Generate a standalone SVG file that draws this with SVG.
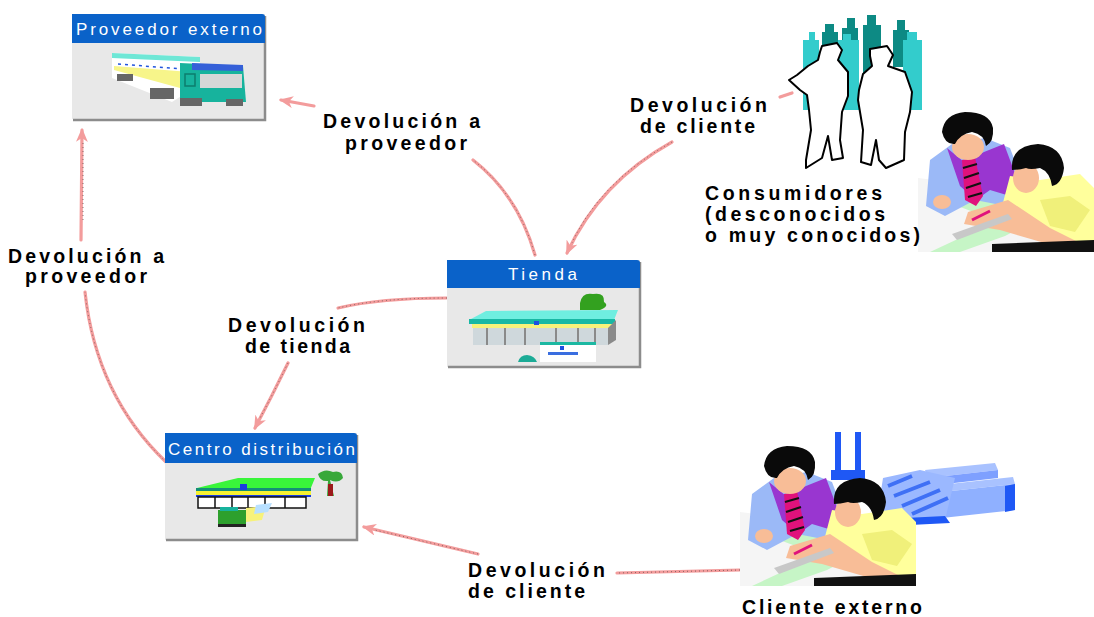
<svg xmlns="http://www.w3.org/2000/svg" xmlns:xlink="http://www.w3.org/1999/xlink" width="1094" height="617" viewBox="0 0 1094 617">
  <style>
    .lbl { font-family: "Liberation Sans", Arial, sans-serif; font-weight: bold; font-size: 19.5px; fill: #000; }
    .hdr { font-family: "Liberation Sans", Arial, sans-serif; font-size: 17px; fill: #fff; }
    .box { fill: #e8e8e8; }
    .shadow { fill: none; stroke: #8c8c8c; stroke-width: 2.5; }
    .bar { fill: #0a62c9; }
    .conn-base { fill: none; stroke: #f39c9c; stroke-width: 3.2; stroke-linecap: round; }
    .conn-dots { fill: none; stroke: #5a4444; stroke-width: 1; stroke-dasharray: 1 3; opacity: 0.7; }
    .ink { fill: #fff; stroke: #000; stroke-width: 2; stroke-linejoin: round; }
    .skin { fill: #f8bd97; }
    .hair { fill: #0a0a0a; }
  </style>
  <defs>
    <marker id="head" viewBox="0 0 14 12" refX="12" refY="6" markerWidth="14" markerHeight="12" markerUnits="userSpaceOnUse" orient="auto">
      <path d="M0,0 L14,6 L0,12 L4,6 Z" fill="#f39c9c"/>
    </marker>
    <!-- two men at a desk, reused for both client pictures -->
    <g id="pair">
      <polygon points="918,178 1000,188 1094,222 1094,252 918,252" fill="#f5f5f5"/>
      <polygon points="928,182 985,196 1040,218 1005,236 960,252 930,252 960,238 1000,222 955,205" fill="#c6f5c6"/>
      <polygon points="930,160 952,144 985,138 1010,148 1022,180 1006,206 975,200 945,216 926,206" fill="#9bb9f7"/>
      <polygon points="947,148 964,162 984,152 1004,144 1016,176 1010,196 990,190 976,200 960,186" fill="#9936d0"/>
      <polygon points="962,160 975,157 983,196 976,206 965,200" fill="#e0127c"/>
      <path d="M963,168 L977,164 M964,178 L979,173 M966,188 L981,183 M968,197 L982,193" stroke="#111" stroke-width="2.2"/>
      <ellipse class="skin" cx="968" cy="147" rx="16" ry="13"/>
      <path class="hair" d="M942,132 Q944,114 965,112 Q990,112 993,128 Q994,142 986,146 Q984,134 972,132 Q960,134 955,144 Q945,145 942,132 Z"/>
      <ellipse class="skin" cx="942" cy="202" rx="9" ry="7"/>
      <polygon points="1010,176 1040,180 1080,174 1094,188 1094,245 1060,238 1020,226 1000,214" fill="#ffff9c"/>
      <polygon points="1040,200 1070,196 1090,210 1075,232 1050,226" fill="#f0f07a"/>
      <ellipse class="skin" cx="1026" cy="178" rx="13" ry="15"/>
      <path class="hair" d="M1012,170 Q1010,146 1038,144 Q1062,146 1064,168 Q1062,184 1052,186 Q1050,172 1040,168 Q1030,170 1026,168 Q1018,170 1012,170 Z"/>
      <polygon points="968,212 1008,200 1050,228 1082,244 1062,248 1000,230 964,224" fill="#f8bd97"/>
      <polygon points="952,234 1008,214 1012,219 957,240" fill="#c8c8c8"/>
      <line x1="972" y1="220" x2="990" y2="211" stroke="#e0127c" stroke-width="3"/>
      <polygon points="992,244 1094,240 1094,252 992,252" fill="#111"/>
    </g>
  </defs>

  <rect width="1094" height="617" fill="#fff"/>

  <!-- connectors -->
  <g id="connectors">
    <path class="conn-base" d="M535,255 Q518,195 473,160"/>
    <path class="conn-dots" d="M535,255 Q518,195 473,160"/>
    <path class="conn-base" d="M314,106 L281,100" marker-end="url(#head)"/>

    <path class="conn-base" d="M780,97 L792,93"/>
    <path class="conn-base" d="M672,142 Q600,182 567,253" marker-end="url(#head)"/>
    <path class="conn-dots" d="M672,142 Q600,182 572,243"/>

    <path class="conn-base" d="M447,298 Q380,298 338,308"/>
    <path class="conn-dots" d="M447,298 Q380,298 338,308"/>
    <path class="conn-base" d="M288,363 Q272,396 255,428" marker-end="url(#head)"/>
    <path class="conn-dots" d="M288,363 Q274,392 260,418"/>

    <path class="conn-base" d="M166,462 Q96,395 85,292"/>
    <path class="conn-dots" d="M166,462 Q96,395 85,292"/>
    <path class="conn-base" d="M81,240 L82,130" marker-end="url(#head)"/>
    <path class="conn-dots" d="M83,220 L83,140"/>

    <path class="conn-base" d="M740,570 L617,573"/>
    <path class="conn-dots" d="M740,570 L617,573"/>
    <path class="conn-base" d="M478,554 L364,527" marker-end="url(#head)"/>
    <path class="conn-dots" d="M478,554 L375,530"/>
  </g>

  <!-- Proveedor externo -->
  <g id="proveedor">
    <rect class="box" x="72" y="14" width="193" height="105"/>
    <path class="shadow" d="M265,16 V120 H73"/>
    <path class="bar" d="M72,14 H262 Q265,14 265,17 V43 H72 Z"/>
    <text class="hdr" x="76" y="35" textLength="186" lengthAdjust="spacing">Proveedor externo</text>
    <polygon points="112,53 200,57 200,84 172,102 112,78" fill="#fff"/>
    <polygon points="112,53 200,57 200,62 112,58" fill="#6ee7d6"/>
    <polygon points="114,66 190,72 180,88 114,70" fill="#f7f58a"/>
    <line x1="118" y1="64" x2="196" y2="70" stroke="#2255dd" stroke-width="1.5" stroke-dasharray="3 4"/>
    <polygon points="180,63 243,66 246,102 180,102" fill="#17b39d"/>
    <polygon points="192,63 243,65 243,71 192,70" fill="#3560d8"/>
    <rect x="200" y="74" width="42" height="14" fill="#d7d7d7"/>
    <rect x="185" y="74" width="10" height="12" fill="none" stroke="#0d7d6d" stroke-width="1.5"/>
    <rect x="117" y="74" width="16" height="7" fill="#666"/>
    <rect x="150" y="88" width="24" height="11" fill="#666"/>
    <rect x="180" y="98" width="22" height="8" fill="#666"/>
    <rect x="226" y="99" width="17" height="7" fill="#666"/>
  </g>

  <!-- Tienda -->
  <g id="tienda">
    <rect class="box" x="447" y="260" width="193" height="107"/>
    <path class="shadow" d="M640,262 V367 H448"/>
    <path class="bar" d="M447,260 H637 Q640,260 640,263 V288 H447 Z"/>
    <text class="hdr" x="508" y="280" textLength="69" lengthAdjust="spacing">Tienda</text>
    <path d="M580,303 Q582,292 593,294 Q605,292 604,302 Q610,306 600,310 L580,310 Z" fill="#33a11f"/>
    <polygon points="471,319 486,311 618,310 614,320" fill="#6feee0"/>
    <rect x="469" y="319" width="146" height="5" fill="#18b8a4"/>
    <rect x="472" y="324" width="140" height="4" fill="#f7f27a"/>
    <rect x="473" y="328" width="135" height="17" fill="#cfd8dc"/>
    <path d="M487,328 V345 M505,328 V345 M525,328 V345 M556,328 V345 M578,328 V345 M595,328 V345" stroke="#8a8a8a" stroke-width="2"/>
    <polygon points="608,328 616,320 616,340 608,345" fill="#8a8a8a"/>
    <rect x="534" y="321" width="5" height="4" fill="#1e50e0"/>
    <rect x="540" y="342" width="56" height="20" fill="#fff"/>
    <rect x="540" y="342" width="56" height="3" fill="#1cb8a2"/>
    <rect x="548" y="352" width="30" height="3" fill="#3a6ee0"/>
    <rect x="560" y="346" width="4" height="4" fill="#1e50e0"/>
    <path d="M518,362 Q520,355 527,355 Q535,356 537,362 Z" fill="#1cab96"/>
  </g>

  <!-- Centro distribución -->
  <g id="centro">
    <rect class="box" x="165" y="433" width="192" height="107"/>
    <path class="shadow" d="M357,435 V540 H166"/>
    <path class="bar" d="M165,433 H354 Q357,433 357,436 V463 H165 Z"/>
    <text class="hdr" x="168" y="455" textLength="187" lengthAdjust="spacing">Centro distribución</text>
    <polygon points="197,488 238,478 315,478 310,490" fill="#39f53a"/>
    <rect x="196" y="488" width="115" height="3" fill="#138f77"/>
    <rect x="196" y="491" width="115" height="4" fill="#f7f230"/>
    <rect x="196" y="495" width="115" height="2" fill="#1a3de0"/>
    <rect x="198" y="497" width="108" height="11" fill="#fff" stroke="#111" stroke-width="1.5"/>
    <path d="M215,497 V508 M232,497 V508 M248,497 V508 M265,497 V508 M285,497 V508" stroke="#111" stroke-width="1.5"/>
    <rect x="240" y="484" width="7" height="6" fill="#1a3de0"/>
    <path d="M318,474 Q325,468 333,472 Q342,470 343,478 Q338,484 330,480 L334,496 L327,496 L328,481 Q320,482 318,474 Z" fill="#38a83a"/>
    <rect x="328" y="484" width="5" height="12" fill="#9b1a1a"/>
    <rect x="218" y="510" width="28" height="16" fill="#2da02d"/>
    <rect x="220" y="507" width="18" height="4" fill="#17b39d"/>
    <rect x="218" y="524" width="28" height="3" fill="#222"/>
    <polygon points="246,508 266,506 262,520 246,522" fill="#f7f27a"/>
    <polygon points="256,505 272,503 268,512 254,514" fill="#b8e0ff"/>
  </g>

  <!-- Consumidores -->
  <g id="consumidores">
    <path d="M803,40 h6 v-8 h6 v8 h4 v70 h-16 Z" fill="#33cccc"/>
    <path d="M842,28 h5 v-10 h8 v10 h3 v55 h-16 Z" fill="#0d8a84"/>
    <path d="M837,40 h6 v-6 h8 v6 h8 v70 h-22 Z" fill="#33cccc"/>
    <path d="M863,25 h4 v-10 h9 v10 h5 v52 h-18 Z" fill="#0d8a84"/>
    <path d="M893,30 h4 v-10 h8 v10 h4 v37 h-16 Z" fill="#0d8a84"/>
    <path d="M903,40 h4 v-8 h10 v8 h5 v70 h-19 Z" fill="#33cccc"/>
    <path d="M822,32 h3 v-8 h9 v8 h4 v14 h-16 Z" fill="#0d8a84"/>
    <path class="ink" d="M822,46 L837,43 L842,50 L838,60 L848,72 L848,96 L842,112 L840,140 L843,158 L832,160 L828,136 L822,158 L806,168 L806,160 L811,130 L809,110 L807,95 L800,90 L789,80 L797,75 L808,66 L818,60 L820,52 Z"/>
    <path class="ink" d="M870,49 L887,46 L893,55 L888,66 L905,72 L912,92 L910,112 L905,132 L904,160 L886,168 L879,160 L876,140 L871,165 L861,162 L863,130 L858,100 L859,90 L863,74 L872,66 L870,56 Z"/>
    <use xlink:href="#pair"/>
    <text class="lbl" x="705" y="200" textLength="177" lengthAdjust="spacing">Consumidores</text>
    <text class="lbl" x="705" y="221" textLength="180" lengthAdjust="spacing">(desconocidos</text>
    <text class="lbl" x="705" y="242" textLength="215" lengthAdjust="spacing">o muy conocidos)</text>
  </g>

  <!-- Cliente externo -->
  <g id="cliente">
    <rect x="835" y="432" width="6" height="48" fill="#1f58f5"/>
    <rect x="855" y="432" width="6" height="48" fill="#1f58f5"/>
    <rect x="831" y="470" width="34" height="10" fill="#1f58f5"/>
    <polygon points="925,470 995,463 998,470 928,478" fill="#a9c2ff"/>
    <polygon points="928,478 998,470 998,478 928,486" fill="#7ea0ff"/>
    <polygon points="940,485 1013,477 1015,484 942,492" fill="#a9c2ff"/>
    <polygon points="942,492 1015,484 1015,510 942,518" fill="#8fb0ff"/>
    <polygon points="1005,486 1015,484 1015,510 1005,512" fill="#1f58f5"/>
    <polygon points="883,478 920,470 955,478 945,520 900,522 878,510" fill="#9bb8ff"/>
    <path d="M888,486 L912,476 M894,496 L930,482 M902,506 L940,490 M912,514 L948,498" stroke="#3f70f5" stroke-width="4"/>
    <polygon points="905,518 945,516 950,523 910,525" fill="#1f58f5"/>
    <use xlink:href="#pair" transform="translate(-178,334)"/>
    <text class="lbl" x="742" y="614" textLength="180" lengthAdjust="spacing">Cliente externo</text>
  </g>

  <!-- connector labels -->
  <g id="labels">
    <text class="lbl" x="323" y="128" textLength="157" lengthAdjust="spacing">Devolución a</text>
    <text class="lbl" x="345" y="150" textLength="122" lengthAdjust="spacing">proveedor</text>
    <text class="lbl" x="8" y="263" textLength="156" lengthAdjust="spacing">Devolución a</text>
    <text class="lbl" x="25" y="283" textLength="122" lengthAdjust="spacing">proveedor</text>
    <text class="lbl" x="630" y="112" textLength="137" lengthAdjust="spacing">Devolución</text>
    <text class="lbl" x="640" y="133" textLength="115" lengthAdjust="spacing">de cliente</text>
    <text class="lbl" x="228" y="332" textLength="137" lengthAdjust="spacing">Devolución</text>
    <text class="lbl" x="245" y="353" textLength="105" lengthAdjust="spacing">de tienda</text>
    <text class="lbl" x="468" y="577" textLength="137" lengthAdjust="spacing">Devolución</text>
    <text class="lbl" x="468" y="598" textLength="117" lengthAdjust="spacing">de cliente</text>
  </g>
</svg>
